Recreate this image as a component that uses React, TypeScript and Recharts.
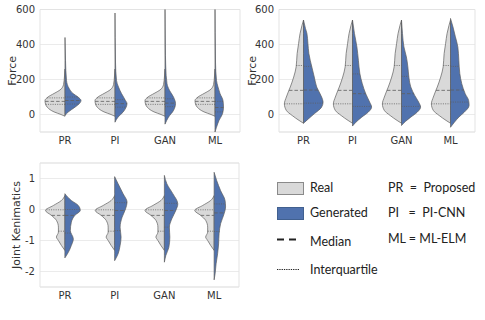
import React from "react";
import {
  ComposedChart,
  Area,
  XAxis,
  YAxis,
  CartesianGrid,
  ReferenceLine,
  ReferenceArea,
  Label,
} from "recharts";

const categories = ["PR", "PI", "GAN", "ML"];
const forceTicks = [0, 200, 400, 600];
const jointTicks = [-2, -1, 0, 1];

// violin outlines: [value, half width in category units]
type Pt = [number, number];

// top-left panel (Force)
const forceRealA: Pt[] = [
  [-10, 0], [0, 0.08], [15, 0.22], [40, 0.35], [60, 0.39], [80, 0.4], [100, 0.34],
  [120, 0.22], [140, 0.1], [170, 0.03], [220, 0.01], [260, 0],
];
const forceGenA: Pt[][] = [
  [[-5, 0], [13, 0.06], [42, 0.2], [60, 0.28], [80, 0.32], [100, 0.26], [120, 0.16], [150, 0.08], [195, 0.03], [310, 0.01], [440, 0]],
  [[-44, 0], [-15, 0.06], [13, 0.16], [40, 0.22], [62, 0.24], [85, 0.2], [120, 0.13], [157, 0.07], [195, 0.03], [300, 0.01], [580, 0]],
  [[-55, 0], [-15, 0.07], [23, 0.17], [62, 0.21], [100, 0.17], [138, 0.09], [176, 0.04], [272, 0.015], [400, 0.006], [640, 0]],
  [[-100, 0], [-73, 0.03], [-34, 0.08], [4, 0.15], [42, 0.17], [80, 0.16], [120, 0.1], [157, 0.06], [195, 0.03], [300, 0.01], [640, 0]],
];
// [q1, median, q3]
const forceRealQA = [58, 75, 95];
const forceGenQA = [[60, 80, 100], [42, 62, 85], [45, 65, 90], [15, 40, 75]];

// top-right panel (Force)
const forceRealB: Pt[] = [
  [-50, 0], [-34, 0.09], [-6, 0.23], [23, 0.35], [61, 0.39], [100, 0.35], [157, 0.27],
  [214, 0.2], [272, 0.15], [348, 0.13], [406, 0.1], [463, 0.07], [510, 0.03], [540, 0],
];
const forceGenB: Pt[][] = [
  [[-50, 0], [-25, 0.1], [4, 0.22], [42, 0.37], [71, 0.4], [100, 0.37], [157, 0.27], [214, 0.22], [272, 0.17], [348, 0.11], [406, 0.09], [463, 0.07], [492, 0.04], [540, 0]],
  [[-66, 0], [-44, 0.07], [-15, 0.19], [13, 0.32], [42, 0.39], [71, 0.35], [119, 0.27], [176, 0.2], [234, 0.15], [310, 0.12], [386, 0.09], [463, 0.04], [540, 0]],
  [[-63, 0], [-40, 0.08], [-15, 0.19], [13, 0.32], [42, 0.39], [71, 0.35], [109, 0.27], [157, 0.19], [214, 0.15], [272, 0.13], [329, 0.1], [386, 0.05], [463, 0.02], [540, 0]],
  [[-73, 0], [-44, 0.08], [-15, 0.17], [13, 0.28], [52, 0.38], [80, 0.37], [119, 0.3], [176, 0.23], [234, 0.19], [310, 0.17], [386, 0.15], [444, 0.1], [501, 0.05], [549, 0]],
];
const forceRealQB = [61, 138, 280];
const forceGenQB = [[65, 140, 275], [46, 119, 232], [46, 119, 218], [71, 140, 275]];

// bottom panel (Joint Kenimatics)
const jointReal: Pt[] = [
  [-1.32, 0], [-1.16, 0.07], [-1.0, 0.13], [-0.89, 0.17], [-0.73, 0.13], [-0.57, 0.13],
  [-0.35, 0.17], [-0.19, 0.27], [-0.03, 0.39], [0.13, 0.23], [0.29, 0.07], [0.45, 0],
];
const jointGen: Pt[][] = [
  [[-1.56, 0], [-1.38, 0.07], [-1.16, 0.13], [-0.95, 0.17], [-0.68, 0.11], [-0.41, 0.13], [-0.19, 0.2], [-0.03, 0.31], [0.13, 0.27], [0.29, 0.13], [0.51, 0]],
  [[-1.65, 0], [-1.43, 0.07], [-1.16, 0.11], [-0.89, 0.13], [-0.57, 0.11], [-0.25, 0.15], [0.02, 0.22], [0.24, 0.25], [0.51, 0.17], [0.83, 0.07], [1.06, 0]],
  [[-1.7, 0], [-1.48, 0.03], [-1.22, 0.09], [-0.89, 0.11], [-0.57, 0.1], [-0.3, 0.15], [-0.03, 0.23], [0.18, 0.27], [0.51, 0.17], [0.83, 0.05], [1.1, 0]],
  [[-2.27, 0], [-2.07, 0.02], [-1.75, 0.04], [-1.43, 0.07], [-1.11, 0.09], [-0.78, 0.1], [-0.46, 0.13], [-0.14, 0.2], [0.08, 0.23], [0.29, 0.22], [0.61, 0.13], [0.94, 0.05], [1.2, 0]],
];
const jointRealQ = [-0.7, -0.19, -0.01];
const jointGenQ = [[-0.76, -0.19, 0.0], [-0.68, -0.03, 0.22], [-0.57, -0.03, 0.2], [-0.71, -0.11, 0.18]];

const GREY = "#d9d9d9";
const BLUE = "#5072ae";
const EDGE = "#5e5e5e";
const FONT = "DejaVu Sans";

function halfRows(pts: Pt[], c: number, side: number) {
  return [...pts]
    .sort((a, b) => b[0] - a[0])
    .map(([v, w]) => ({ y: v, r: side < 0 ? [c - w, c] : [c, c + w] }));
}

function widthAt(pts: Pt[], v: number) {
  for (let i = 0; i < pts.length - 1; i++) {
    const [v0, w0] = pts[i];
    const [v1, w1] = pts[i + 1];
    if (v >= v0 && v <= v1) return w0 + ((v - v0) / (v1 - v0)) * (w1 - w0);
  }
  return 0;
}

type PanelProps = {
  left: number;
  top: number;
  width: number;
  height: number;
  margin: { top: number; right: number; left: number; bottom: number };
  yWidth: number;
  domain: [number, number];
  ticks: number[];
  label: string;
  labelX: number;
  real: Pt[];
  realQ: number[];
  gen: Pt[][];
  genQ: number[][];
};

function ViolinPanel(p: PanelProps) {
  const areas: { key: string; fill: string; data: any[] }[] = [];
  const lines: { key: string; x1: number; x2: number; y: number; dash: string }[] = [];
  categories.forEach((_, i) => {
    const c = i + 0.5;
    areas.push({ key: `r${i}`, fill: GREY, data: halfRows(p.real, c, -1) });
    areas.push({ key: `g${i}`, fill: BLUE, data: halfRows(p.gen[i], c, 1) });
    p.realQ.forEach((q, k) => {
      lines.push({ key: `rq${i}${k}`, x1: c - widthAt(p.real, q), x2: c, y: q, dash: k === 1 ? "3.5 2" : "1 1.3" });
    });
    p.genQ[i].forEach((q, k) => {
      lines.push({ key: `gq${i}${k}`, x1: c, x2: c + widthAt(p.gen[i], q), y: q, dash: k === 1 ? "3.5 2" : "1 1.3" });
    });
  });

  return (
    <div style={{ position: "absolute", left: p.left, top: p.top }}>
      <ComposedChart layout="vertical" width={p.width} height={p.height} margin={p.margin}>
        <CartesianGrid vertical={false} stroke="#ebebeb" />
        <ReferenceArea
          x1={0}
          x2={4}
          y1={p.domain[0]}
          y2={p.domain[1]}
          fill="none"
          stroke="#e3e3e3"
          strokeWidth={1}
        />
        <XAxis
          type="number"
          domain={[0, 4]}
          allowDataOverflow
          ticks={[0.5, 1.5, 2.5, 3.5]}
          tickFormatter={(v) => categories[Math.floor(v)]}
          axisLine={false}
          tickLine={false}
          tickSize={3}
          tickMargin={2}
          height={20}
          tick={{ fontSize: 10, fill: "#333", fontFamily: FONT }}
        />
        <YAxis
          type="number"
          dataKey="y"
          reversed
          domain={p.domain}
          allowDataOverflow
          ticks={p.ticks}
          axisLine={false}
          tickLine={false}
          tickSize={3}
          tickMargin={2}
          width={p.yWidth}
          tick={{ fontSize: 10, fill: "#333", fontFamily: FONT }}
        >
          <Label
            value={p.label}
            angle={-90}
            position="insideLeft"
            offset={p.labelX}
            fontSize={11}
            fill="#333"
            fontFamily={FONT}
            style={{ textAnchor: "middle", fontFamily: FONT, fontSize: 11 }}
          />
        </YAxis>
        {areas.map((a) => (
          <Area
            key={a.key}
            data={a.data}
            dataKey="r"
            type="monotone"
            fill={a.fill}
            fillOpacity={1}
            stroke={EDGE}
            strokeWidth={0.7}
            isAnimationActive={false}
            dot={false}
            activeDot={false}
          />
        ))}
        {lines.map((l) => (
          <ReferenceLine
            key={l.key}
            segment={[
              { x: l.x1, y: l.y },
              { x: l.x2, y: l.y },
            ]}
            stroke={EDGE}
            strokeWidth={0.8}
            strokeDasharray={l.dash}
          />
        ))}
      </ComposedChart>
    </div>
  );
}

const legendText: React.CSSProperties = {
  position: "absolute",
  fontFamily: "Lato",
  fontSize: 12.5,
  color: "#222",
  whiteSpace: "pre",
  lineHeight: "14px",
};

export default function App() {
  return (
    <div style={{ position: "absolute", left: 0, top: 0, width: 485, height: 320, background: "#fff" }}>
      <ViolinPanel
        left={0}
        top={0}
        width={245}
        height={152}
        margin={{ top: 9.5, right: 5, left: 0, bottom: 0 }}
        yWidth={40}
        domain={[-100, 600]}
        ticks={forceTicks}
        label="Force"
        labelX={12}
        real={forceRealA}
        realQ={forceRealQA}
        gen={forceGenA}
        genQ={forceGenQA}
      />
      <ViolinPanel
        left={240}
        top={0}
        width={245}
        height={152}
        margin={{ top: 9.5, right: 10, left: 0, bottom: 0 }}
        yWidth={39}
        domain={[-100, 600]}
        ticks={forceTicks}
        label="Force"
        labelX={12}
        real={forceRealB}
        realQ={forceRealQB}
        gen={forceGenB}
        genQ={forceGenQB}
      />
      <ViolinPanel
        left={0}
        top={160}
        width={245}
        height={147}
        margin={{ top: 3, right: 6, left: 0, bottom: 0 }}
        yWidth={40}
        domain={[-2.5, 1.5]}
        ticks={jointTicks}
        label="Joint Kenimatics"
        labelX={16}
        real={jointReal}
        realQ={jointRealQ}
        gen={jointGen}
        genQ={jointGenQ}
      />

      <svg style={{ position: "absolute", left: 0, top: 0 }} width={485} height={320}>
        <rect x={277.5} y={182.5} width={26} height={12} fill={GREY} stroke="#8a8a8a" strokeWidth={1} />
        <rect x={277.5} y={207.5} width={26} height={12} fill={BLUE} stroke="#41608f" strokeWidth={1} />
        <line x1={277} y1={239.5} x2={298} y2={239.5} stroke="#222" strokeWidth={2} strokeDasharray="7 5" />
        <line x1={277} y1={269.5} x2={300} y2={269.5} stroke="#222" strokeWidth={1.2} strokeDasharray="1.3 1" />
      </svg>
      <div style={{ ...legendText, left: 310, top: 181 }}>Real</div>
      <div style={{ ...legendText, left: 310, top: 206 }}>Generated</div>
      <div style={{ ...legendText, left: 310, top: 235 }}>Median</div>
      <div style={{ ...legendText, left: 310, top: 263 }}>Interquartile</div>
      <div style={{ ...legendText, left: 388, top: 181 }}>PR  =  Proposed</div>
      <div style={{ ...legendText, left: 388, top: 206 }}>PI   =  PI-CNN</div>
      <div style={{ ...legendText, left: 388, top: 232 }}>ML = ML-ELM</div>
    </div>
  );
}
